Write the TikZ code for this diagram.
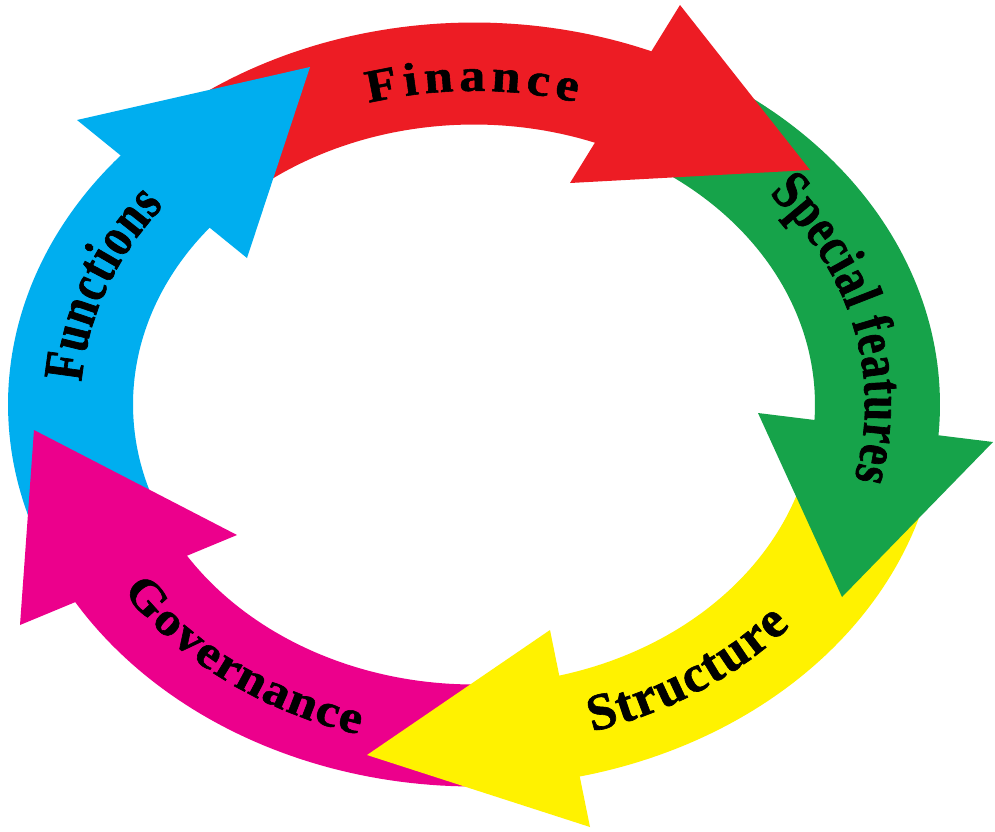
\documentclass[tikz,border=0pt]{standalone}
\usepackage{fontspec}
\setmainfont{Liberation Serif}
\newfontfamily\LblWide[FakeStretch=1.12,FakeBold=1.2]{Liberation Serif}
\newfontfamily\LblNorm[FakeBold=1.2]{Liberation Serif}
\newfontfamily\LblCond[FakeStretch=0.8,FakeBold=1.2]{Liberation Serif}
\usetikzlibrary{decorations.text}
\definecolor{arRed}{RGB}{237,28,36}
\definecolor{arGreen}{RGB}{22,163,74}
\definecolor{arYellow}{RGB}{255,242,0}
\definecolor{arMagenta}{RGB}{236,0,140}
\definecolor{arCyan}{RGB}{0,174,239}
% band of the ring between two parameter angles
\newcommand\RingBand[3]{%
  \fill[#1] plot[domain=#2:#3, samples=60] ({474+466*cos(\x)},{404.5-382*sin(\x)})
    -- plot[domain=#3:#2, samples=60] ({474+341*cos(\x)},{404.5-280*sin(\x)}) -- cycle;}
% text along the ring: #1 fraction from outer edge, #2 start angle, #3 end angle, #4 format, #5 text
\newcommand\RingText[5]{%
  \path[decorate, decoration={text along path, text={|#4|#5}, text align={fit to path}}]
    plot[domain=#2:#3, samples=80] ({474+(466-125*#1)*cos(\x)},{404.5-(382-102*#1)*sin(\x)});}
\begin{document}
\begin{tikzpicture}[x=0.025cm, y=-0.025cm]
\useasboundingbox (0,0) rectangle (995,831);
\fill[white] (0,0) rectangle (995,831);
% bands
\RingBand{arRed}{135}{62}
\RingBand{arGreen}{62}{-8}
\RingBand{arYellow}{-8}{-80}
\RingBand{arMagenta}{-80}{-155}
\RingBand{arCyan}{-160}{-225}
% heads
\fill[arRed] (680,5) -- (810,170) -- (570,183) -- cycle;
\fill[arGreen] (758,413) -- (993,442) -- (842,597) -- cycle;
\fill[arYellow] (550,630) -- (590,827) -- (367,755) -- cycle;
\fill[arMagenta] (237,535) -- (20,625) -- (34,430) -- cycle;
\fill[arCyan] (77,120) -- (247,258) -- (310,67) -- cycle;
% labels
\RingText{0.67}{106}{74.5}{\LblWide\fontsize{33}{33}\selectfont\bfseries}{Finance}
\RingText{0.60}{41}{-13.5}{\LblCond\fontsize{40}{40}\selectfont\bfseries}{Special features}
\RingText{0.40}{-73.5}{-40.5}{\LblNorm\fontsize{37}{37}\selectfont\bfseries}{Structure}
\RingText{0.38}{213}{254}{\LblWide\fontsize{33}{33}\selectfont\bfseries}{Governance}
\RingText{0.58}{176}{142}{\LblCond\fontsize{40}{40}\selectfont\bfseries}{Functions}
\end{tikzpicture}
\end{document}
